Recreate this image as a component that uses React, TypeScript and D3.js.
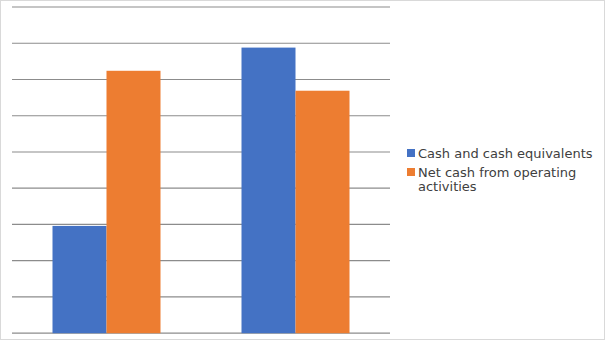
import React from "react";
import * as d3 from "d3";

const categories = ["A", "B"];
const seriesNames = ["Cash and cash equivalents", "Net cash from operating activities"];
const cashValues = [2.96, 7.88];
const netCashValues = [7.24, 6.69];
const gridTicks = [0, 1, 2, 3, 4, 5, 6, 7, 8, 9];
const colors = ["#4472C4", "#ED7D31"];

export default function App() {
  const W = 605, H = 340;
  const x = d3.scaleBand<string>().domain(categories).range([12, 390]);
  const inner = d3.scaleBand<number>().domain([0, 1]).range([0, 108]);
  const y = d3.scaleLinear().domain([0, 9]).range([333.2, 7]);
  const series = [cashValues, netCashValues];
  return (
    <svg width={W} height={H} style={{ position: "absolute", left: 0, top: 0, fontFamily: "DejaVu Sans" }}>
      <rect x={0.5} y={0.5} width={W - 1} height={H - 1} fill="#fff" stroke="#d9d9d9" />
      {gridTicks.map((t) => (
        <line key={t} x1={12} x2={390} y1={y(t)} y2={y(t)} stroke="#8c8c8c" strokeWidth={1.2} />
      ))}
      {series.map((vals, si) =>
        categories.map((c, ci) => {
          const bx = (x(c) as number) + (x.bandwidth() - 108) / 2 + (inner(si) as number);
          return (
            <rect key={si + "-" + ci} x={bx} y={y(vals[ci])} width={inner.bandwidth()} height={y(0) - y(vals[ci])} fill={colors[si]} />
          );
        })
      )}
      <g>
        <rect x={407} y={149} width={8} height={8} fill={colors[0]} />
        <text x={418} y={158} fontSize={13} fill="#404040">{seriesNames[0]}</text>
        <rect x={407} y={168} width={8} height={8} fill={colors[1]} />
        <text x={418} y={177} fontSize={13} fill="#404040">Net cash from operating</text>
        <text x={418} y={191} fontSize={13} fill="#404040">activities</text>
      </g>
    </svg>
  );
}
